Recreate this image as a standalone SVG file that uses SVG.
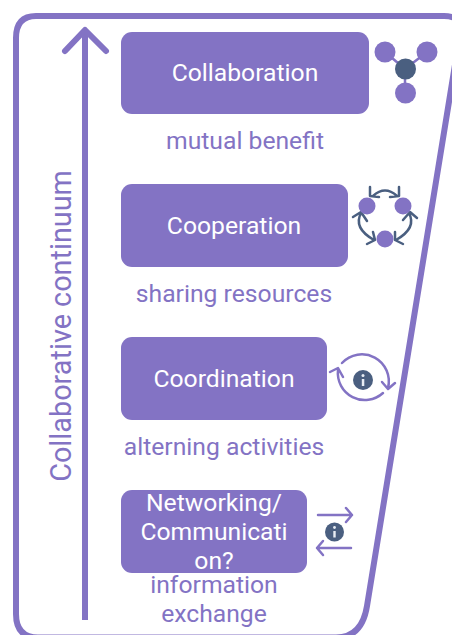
<svg xmlns="http://www.w3.org/2000/svg" width="452" height="635" viewBox="0 0 452 635">
<defs>
<style>
.box{fill:#8373c4}
.ttl{font-family:Roboto,"Liberation Sans",sans-serif;font-size:24.7px;fill:#fff;text-anchor:middle}
.sub{font-family:Roboto,"Liberation Sans",sans-serif;font-size:24.7px;fill:#8373c4;text-anchor:middle}
.pl{fill:none;stroke:#8373c4;stroke-width:2.5;stroke-linecap:round;stroke-linejoin:round}
.dk{fill:none;stroke:#4a5f80;stroke-width:2.5;stroke-linecap:round;stroke-linejoin:round}
.dot{fill:#8373c4}
.inf{fill:#4a5f80}
.i{fill:#e8edf4}
</style>
</defs>
<rect width="452" height="635" fill="#fff"/>
<g id="frame"><path d="M36 16H444Q463 16 460 34L367 606Q362 637.500 336 637.500H38Q16 637.500 16 614V38Q16 16 36 16Z" fill="none" stroke="#8373c4" stroke-width="6"/></g>
<g id="connectors">
<path d="M85 620V32" fill="none" stroke="#8373c4" stroke-width="6"/>
<path d="M65 51L85 30L106 51" fill="none" stroke="#8373c4" stroke-width="6" stroke-linecap="round" stroke-linejoin="round"/>
</g>
<text transform="translate(71 326) rotate(-90)" class="sub" style="font-size:28.800px">Collaborative continuum</text>
<g id="collaboration">
<rect class="box" x="121" y="32" width="248" height="82" rx="11"/>
<text class="ttl" x="245" y="81">Collaboration</text>
<text class="sub" x="245" y="149">mutual benefit</text>
<path class="pl" d="M385 52L405 69L427 52M405 69V93"/>
<circle class="dot" cx="385" cy="52" r="10.500"/><circle class="dot" cx="427" cy="52" r="10.500"/><circle class="dot" cx="405.500" cy="93" r="10.500"/>
<circle class="inf" cx="405.500" cy="69" r="10.500"/>
</g>
<g id="cooperation">
<rect class="box" x="121" y="184" width="227" height="83" rx="11"/>
<text class="ttl" x="234" y="234">Cooperation</text>
<text class="sub" x="234" y="302">sharing resources</text>
<path class="dk" d="M373 196Q385 185 397 196M370 187V196L379 197M399 187V196L390 197"/>
<path class="dk" d="M409 213Q417 228 396 240M403 220L410 212L417 218M395 232V240L403 244"/>
<path class="dk" d="M361 213Q353 228 374 240M353 217L361 212L367 221M373 232L375 240L367 244"/>
<circle class="dot" cx="367" cy="206" r="8.500"/><circle class="dot" cx="403" cy="206" r="8.500"/><circle class="dot" cx="385" cy="239" r="8.500"/>
</g>
<g id="coordination">
<rect class="box" x="121" y="337" width="206" height="83" rx="11"/>
<text class="ttl" x="224" y="387">Coordination</text>
<text class="sub" x="224" y="455">alterning activities</text>
<path class="pl" d="M342 363A27 27 0 0 1 388 388M382 382L388 389L395 383"/>
<path class="pl" d="M383 393A27 27 0 0 1 338 370M330 372L338 368L343 377"/>
<circle class="inf" cx="363" cy="380" r="10"/>
<rect class="i" x="361.800" y="379" width="2.500" height="7"/><circle class="i" cx="363" cy="375.500" r="1.500"/>
</g>
<g id="networking">
<rect class="box" x="121" y="490" width="186" height="83" rx="11"/>
<text class="ttl" x="214" y="511">Networking/</text>
<text class="ttl" x="214" y="540">Communicati</text>
<text class="ttl" x="214" y="569">on?</text>
<text class="sub" x="214" y="593">information</text>
<text class="sub" x="214" y="622">exchange</text>
<path class="pl" d="M318 515H352M346 508L352 515L346 522"/>
<path class="pl" d="M351 548H317M323 541L317 548L323 555"/>
<circle class="inf" cx="334.500" cy="532" r="9.500"/>
<rect class="i" x="333.300" y="531" width="2.400" height="6.500"/><circle class="i" cx="334.500" cy="527.500" r="1.400"/>
</g>
</svg>
